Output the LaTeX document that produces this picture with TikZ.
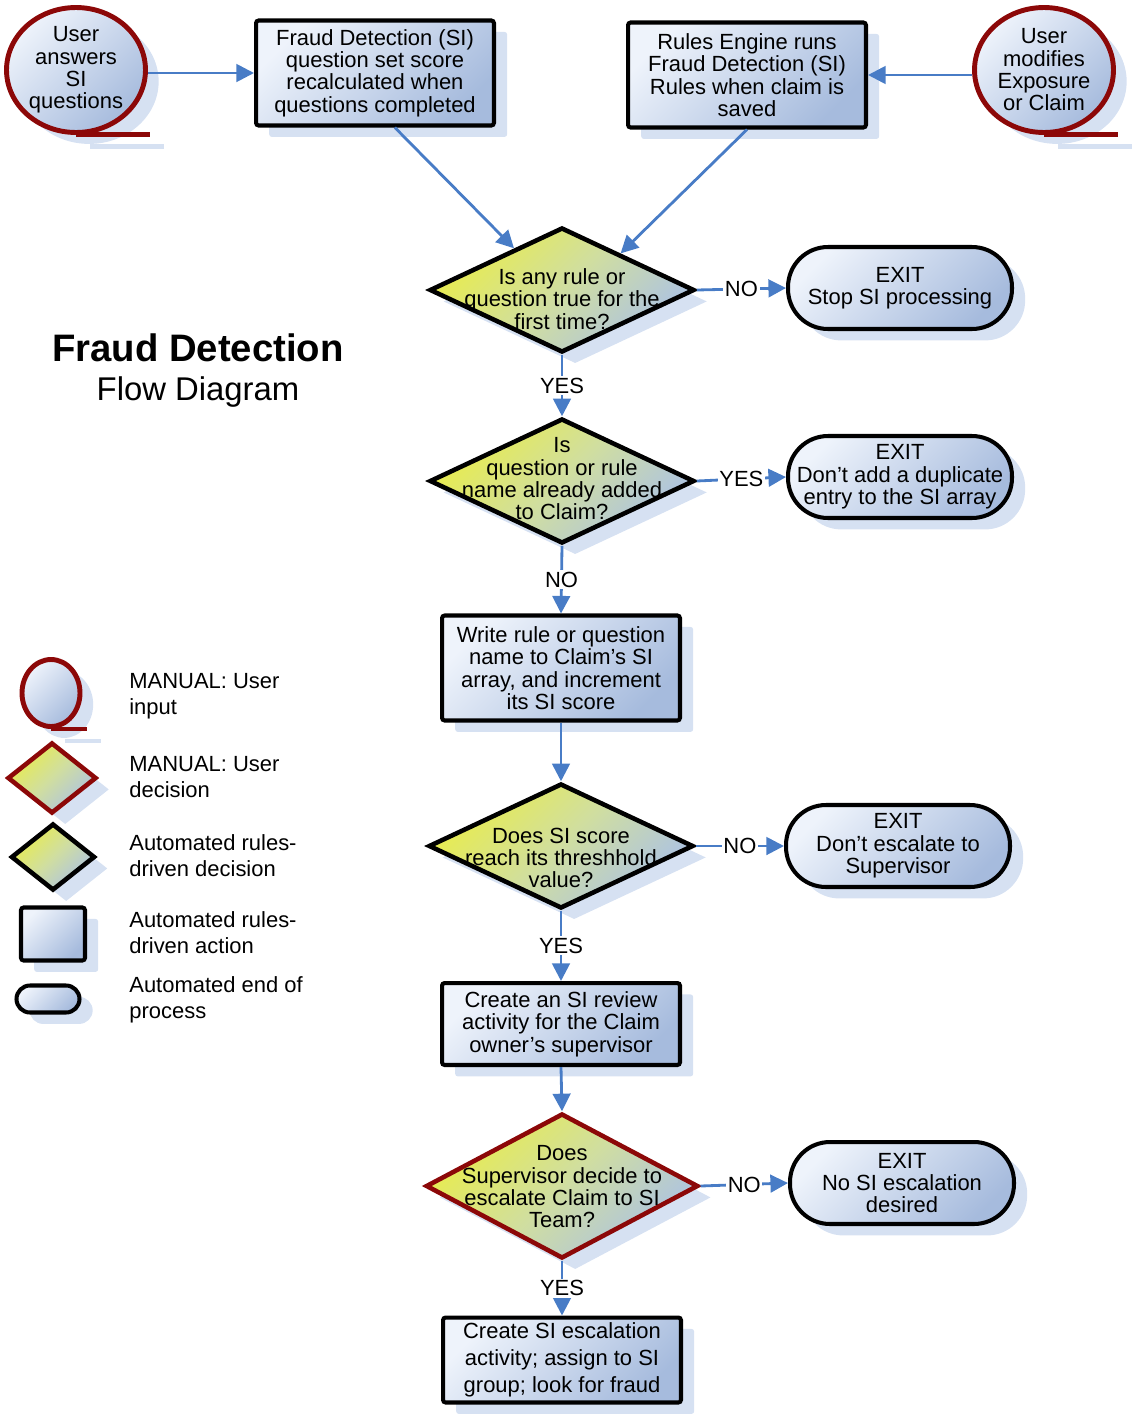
\documentclass[tikz,border=0pt]{standalone}
\usepackage{fontspec}
\setmainfont{Liberation Sans}
\usetikzlibrary{shapes.geometric,arrows.meta,shadows,backgrounds,calc}

\definecolor{boxlight}{RGB}{238,243,251}
\definecolor{boxdark}{RGB}{166,187,221}
\definecolor{decyellow}{RGB}{232,236,78}
\definecolor{decmid}{RGB}{208,222,160}
\definecolor{decblue}{RGB}{172,194,228}
\definecolor{manualred}{RGB}{140,8,8}
\definecolor{arrowblue}{RGB}{72,124,198}
\definecolor{shadowblue}{RGB}{214,225,242}

\newcommand{\flowfont}{\fontsize{12.5}{12.7}\selectfont}

\begin{document}
\begin{tikzpicture}[
    x=0.02cm, y=-0.02cm,
    softshadow/.style={drop shadow={shadow xshift=7.5pt, shadow yshift=-6.5pt, fill=shadowblue, opacity=1}},
    blueshade/.style={top color=boxlight, bottom color=boxdark, shading angle=45},
    actbox/.style={rectangle, draw=black, line width=2.3pt, rounded corners=1.5pt, blueshade, softshadow, align=center, inner sep=0pt, font=\flowfont, minimum width=4.76cm, minimum height=2.1cm},
    exitbox/.style={rectangle, draw=black, line width=2.3pt, rounded corners=0.8cm, blueshade, softshadow, align=center, inner sep=0pt, font=\flowfont, minimum width=4.48cm, minimum height=1.64cm},
    autodec/.style={diamond, draw=black, line width=2.6pt, top color=decyellow, bottom color=decblue, middle color=decmid, shading angle=45, softshadow, inner sep=0pt, minimum width=5.3cm, minimum height=2.5cm},
    mandec/.style={autodec, draw=manualred},
    userin/.style={ellipse, draw=manualred, line width=2.8pt, blueshade, softshadow, align=center, inner sep=0pt, font=\flowfont, minimum width=2.78cm, minimum height=2.5cm},
    tail/.style={draw=manualred, line width=2.8pt},
    tailshadow/.style={draw=shadowblue, line width=2.8pt},
    dtext/.style={align=center, inner sep=0pt, font=\flowfont},
    lbl/.style={fill=white, inner sep=1pt, font=\flowfont},
    legtext/.style={anchor=west, align=left, inner sep=0pt, font=\fontsize{12.5}{14.8}\selectfont},
    arr/.style={-{Triangle[length=10pt, width=10pt]}, line width=1.6pt, draw=arrowblue}
]
    \useasboundingbox (0,0) rectangle (1134,1420);

    % top row
    \node [userin] (c1) at (76,70) {User\\answers\\SI\\questions};
    \node [actbox] (b1) at (375,73) {Fraud Detection (SI)\\question set score\\recalculated when\\questions completed};
    \node [actbox] (b2) at (747,75) {Rules Engine runs\\Fraud Detection (SI)\\Rules when claim is\\saved};
    \node [userin] (c2) at (1044,70) {User\\modifies\\Exposure\\or Claim};

    % main flow
    \node [autodec] (d1) at (562,290) {};
    \node [dtext] (d1t) at (562,299) {Is any rule or\\question true for the\\first time?};
    \node [exitbox] (e1) at (900,288) {EXIT\\Stop SI processing};

    \node [autodec] (d2) at (562,481) {};
    \node [dtext] (d2t) at (562,479) {Is\\question or rule\\name already added\\to Claim?};
    \node [exitbox] (e2) at (900,477) {EXIT\\Don’t add a duplicate\\entry to the SI array};

    \node [actbox] (b3) at (561,668) {Write rule or question\\name to Claim’s SI\\array, and increment\\its SI score};

    \node [autodec] (d3) at (561,846) {};
    \node [dtext] (d3t) at (561,858) {Does SI score\\reach its threshhold\\value?};
    \node [exitbox] (e3) at (898,846) {EXIT\\Don’t escalate to\\Supervisor};

    \node [actbox, minimum height=1.64cm] (b4) at (561,1024) {Create an SI review\\activity for the Claim\\owner’s supervisor};

    \node [mandec, minimum width=5.45cm, minimum height=2.9cm] (d4) at (562,1186) {};
    \node [dtext] (d4t) at (562,1187) {Does\\Supervisor decide to\\escalate Claim to SI\\Team?};
    \node [exitbox] (e4) at (902,1183) {EXIT\\No SI escalation\\desired};

    \node [actbox, minimum height=1.7cm, font=\fontsize{12.5}{15.3}\selectfont] (b5) at (562,1360) {Create SI escalation\\activity; assign to SI\\group; look for fraud};

    % tails of the manual input shapes
    \draw [tail] (c1.south) -- ++(74,0);
    \draw [tail] (c2.south) -- ++(74,0);

    % title
    \node [font=\fontsize{21.8}{26}\selectfont\bfseries] (title) at (198,348) {Fraud Detection};
    \node [font=\fontsize{18.7}{22}\selectfont] (subtitle) at (198,392) {Flow Diagram};

    % legend
    \node [userin, minimum width=1.16cm, minimum height=1.34cm] (lg1) at (51,693) {};
    \draw [tail] (lg1.south) -- ++(36,0);
    \node [mandec, minimum width=1.78cm, minimum height=1.42cm] (lg2) at (52,778) {};
    \node [autodec, minimum width=1.68cm, minimum height=1.34cm] (lg3) at (53,857) {};
    \node [actbox, minimum width=1.28cm, minimum height=1.06cm] (lg4) at (53,934) {};
    \node [exitbox, rounded corners=0.27cm, minimum width=1.26cm, minimum height=0.54cm] (lg5) at (48,999) {};

    \node [legtext] (lt1) at (129,696) {MANUAL: User\\input};
    \node [legtext] (lt2) at (129,777) {MANUAL: User\\decision};
    \node [legtext] (lt3) at (129,856) {Automated rules-\\driven decision};
    \node [legtext] (lt4) at (129,933) {Automated rules-\\driven action};
    \node [legtext] (lt5) at (129,1000) {Automated end of\\process};

    \begin{scope}[on background layer]
        \draw [tailshadow] ($(c1.south)+(14,12)$) -- ++(74,0);
        \draw [tailshadow] ($(c2.south)+(14,12)$) -- ++(74,0);
        \draw [tailshadow] ($(lg1.south)+(14,12)$) -- ++(36,0);
    \end{scope}

    % connectors
    \draw [arr] (c1.east |- b1.west) -- (b1.west);
    \draw [arr] (c2.west |- b2.east) -- (b2.east);
    \draw [arr] (b1.-70) -- (d1.139);
    \draw [arr] (b2.south) -- (d1.32);
    \draw [arr] (d1.east) -- node [lbl] (l1) {NO} (e1.west);
    \draw [arr] (d1.south) -- node [lbl] (l2) {YES} (d2.north);
    \draw [arr] (d2.east) -- node [lbl] (l3) {YES} (e2.west);
    \draw [arr] (d2.south) -- node [lbl] (l4) {NO} (b3.north);
    \draw [arr] (b3.south) -- (d3.north);
    \draw [arr] (d3.east) -- node [lbl] (l5) {NO} (e3.west);
    \draw [arr] (d3.south) -- node [lbl] (l6) {YES} (b4.north);
    \draw [arr] (b4.south) -- (d4.north);
    \draw [arr] (d4.east) -- node [lbl] (l7) {NO} (e4.west);
    \draw [arr] (d4.south) -- node [lbl] (l8) {YES} (b5.north);
\end{tikzpicture}
\end{document}
